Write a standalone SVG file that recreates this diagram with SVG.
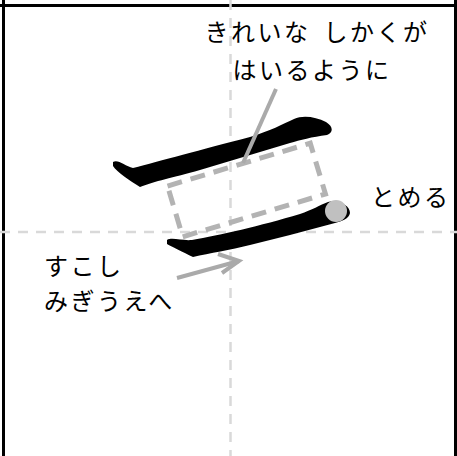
<svg xmlns="http://www.w3.org/2000/svg" width="457" height="456" viewBox="0 0 457 456">
<style>
.frame{stroke:#000;stroke-width:3;fill:none}
.guide{stroke:#d9d9d9;stroke-width:2.5;stroke-dasharray:10 8;fill:none}
.box{stroke:#b3b3b3;stroke-width:5;stroke-dasharray:15 9;fill:none}
.lead{stroke:#aaaaaa;stroke-width:4;fill:none;stroke-linecap:butt}
.brush{fill:#000}
.lbl{font-family:"Noto Sans CJK JP","Noto Sans",sans-serif;font-size:24px;letter-spacing:2.5px;fill:#000}
</style>
<rect width="457" height="456" fill="#fff"/>
<g id="frame">
<line class="frame" x1="0" y1="5.5" x2="457" y2="5.5"/>
<line class="frame" x1="3.5" y1="0" x2="3.5" y2="456"/>
<line class="frame" x1="455.5" y1="0" x2="455.5" y2="456"/>
</g>
<g id="guides">
<line class="guide" x1="230.5" y1="0" x2="230.5" y2="456"/>
<line class="guide" x1="0" y1="232" x2="457" y2="232"/>
</g>
<g id="square">
<rect class="box" x="-74.5" y="-26.5" width="149" height="53" transform="translate(246.5 190) rotate(-16.7)"/>
</g>
<g id="stroke1">
<path class="brush" d="M113,162 C118,159 125,166 133,168 C160,161 200,150 250,137 C270,131 283,124 294,119 C303,115 316,117 326,122 C334,127 333,133 327,135 C312,137 300,140 290,143 L250,155 L200,170 C172,178 155,181 140,187 C130,181 117,172 113,166 Z"/>
</g>
<g id="stroke2">
<path class="brush" d="M167,240 C172,237 182,241 192,240 C220,235 260,226 300,214 C312,210 320,205 328,202 C340,200 350,206 350,213 C349,219 342,221 335,223 C320,227 305,231 290,235 L250,245 C230,250 210,253 193,257 C183,252 172,247 167,244 Z"/>
<circle cx="336" cy="211" r="11" fill="#c0c0c0"/>
</g>
<g id="connectors">
<line class="lead" x1="276" y1="89" x2="243" y2="163"/>
<line class="lead" x1="177" y1="278" x2="239" y2="261"/>
<polyline class="lead" points="218,254 239,261 222,273"/>
</g>
<g id="label-box">
<text class="lbl" x="317" y="41" text-anchor="middle" word-spacing="5">きれいな しかくが</text>
<text class="lbl" x="312" y="79" text-anchor="middle">はいるように</text>
</g>
<g id="label-stop">
<text class="lbl" x="371" y="206">とめる</text>
</g>
<g id="label-arrow">
<text class="lbl" x="44" y="275">すこし</text>
<text class="lbl" x="44" y="310">みぎうえへ</text>
</g>
</svg>
